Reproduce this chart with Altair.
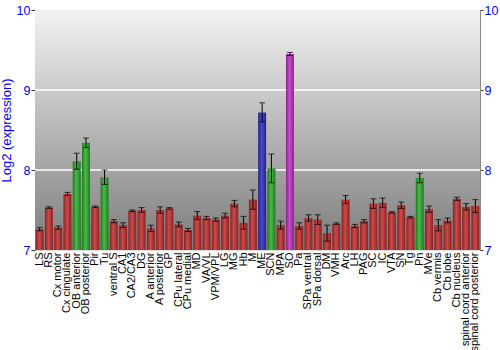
import altair as alt
import pandas as pd

regions = ["LS", "RS", "Cx motor", "Cx cingulate", "OB anterior", "OB posterior", "Pir", "Tu",
           "ventral S", "CA1", "CA2/CA3", "DG", "A anterior", "A posterior", "GP", "CPu lateral",
           "CPu medial", "MD", "VA/VL", "VPM/VPL", "LG", "MG", "Hb", "M", "ME", "SCN", "MPA", "SO",
           "Pa", "SPa ventral", "SPa dorsal", "DM", "VMH", "Arc", "LH", "PAG", "SC", "IC", "VTA",
           "SN", "Tg", "Pn", "MVe", "Cb vermis", "Cb lobe", "Cb nucleus", "spinal cord anterior",
           "spinal cord posterior"]
values = [7.26, 7.53, 7.28, 7.70, 8.11, 8.34, 7.54, 7.91,
          7.36, 7.31, 7.49, 7.50, 7.27, 7.50, 7.52, 7.32,
          7.25, 7.43, 7.40, 7.38, 7.43, 7.58, 7.34, 7.63, 8.72, 8.02, 7.31, 9.45,
          7.30, 7.40, 7.38, 7.21, 7.33, 7.63, 7.30, 7.36, 7.58, 7.59, 7.47,
          7.56, 7.41, 7.90, 7.51, 7.31, 7.37, 7.64, 7.54, 7.55]
errors = [0.02, 0.01, 0.02, 0.02, 0.10, 0.06, 0.01, 0.09,
          0.02, 0.03, 0.01, 0.03, 0.04, 0.04, 0.01, 0.03,
          0.02, 0.05, 0.02, 0.02, 0.03, 0.04, 0.08, 0.12, 0.12, 0.18, 0.05, 0.02,
          0.04, 0.04, 0.06, 0.10, 0.01, 0.05, 0.02, 0.02, 0.06, 0.06, 0.01,
          0.04, 0.01, 0.06, 0.04, 0.07, 0.03, 0.02, 0.04, 0.08]
green = ["OB anterior", "OB posterior", "Tu", "SCN", "Pn"]
blue = ["ME"]
purple = ["SO"]

groups = ["g" if r in green else "b" if r in blue else "p" if r in purple else "r" for r in regions]
df = pd.DataFrame({"region": regions, "value": values, "err": errors, "group": groups})
df["lo"] = df["value"] - df["err"]
df["hi"] = df["value"] + df["err"]

W, H = 445, 240
yscale = alt.Scale(domain=[7, 10], nice=False, zero=False)
xscale = alt.Scale(domain=regions, paddingInner=0.14, paddingOuter=0.07)
xaxis = alt.Axis(labelAngle=-90, labelFontSize=11, labelColor="black", ticks=False, domain=False,
                 title=None, labelPadding=2, labelLimit=300,
                 labelFont="Liberation Sans",
                 labelBaseline="middle", labelAlign="right")
X = alt.X("region:N", scale=xscale, axis=xaxis)

def grad(edge, mid):
    return alt.LinearGradient(gradient="linear", x1=0, x2=1, y1=0, y2=0,
                              stops=[alt.GradientStop(color=edge, offset=0),
                                     alt.GradientStop(color=mid, offset=0.45),
                                     alt.GradientStop(color=edge, offset=1)])

bg_df = pd.DataFrame({"top": [10], "bot": [7]})
bg = alt.Chart(bg_df).mark_rect(
    color=alt.LinearGradient(gradient="linear", x1=0, x2=0, y1=0, y2=1,
                             stops=[alt.GradientStop(color="#f2f2f2", offset=0),
                                    alt.GradientStop(color="#7c7c7c", offset=1)])
).encode(
    x=alt.value(0), x2=alt.value(W),
    y=alt.Y("top:Q", scale=yscale,
            axis=alt.Axis(values=[7, 8, 9, 10], title="Log2 (expression)", titleColor="#0000ff",
                          titleFontWeight="normal", titleFontSize=13, titleFont="Liberation Sans",
                          labelColor="#0000ff", labelFontSize=12.5, labelFont="Liberation Sans",
                          domainColor="#888888", tickColor="#333333", tickSize=4, grid=False,
                          labelPadding=1, titlePadding=3)),
    y2="bot:Q",
)

grid_df = pd.DataFrame({"v": [8, 9]})
grid = alt.Chart(grid_df).mark_rule(color="white", strokeWidth=1.5).encode(
    x=alt.value(0), x2=alt.value(W),
    y=alt.Y("v:Q", scale=yscale,
            axis=alt.Axis(orient="right", values=[7, 8, 9, 10], title=None,
                          labelColor="#0000ff", labelFontSize=12.5, labelFont="Liberation Sans",
                          domainColor="#888888", tickColor="#333333", tickSize=3, grid=False,
                          labelPadding=1)),
)

colors = {"r": ("#8a2222", "#cc4a4a"), "g": ("#1f7a1f", "#48bb48"),
          "b": ("#232388", "#4a4acc"), "p": ("#8a228a", "#cc4acc")}
bars = []
for g, (edge, mid) in colors.items():
    bars.append(alt.Chart(df).transform_filter(alt.datum.group == g).mark_bar(
        color=grad(edge, mid)).encode(
        x=X, y=alt.Y("value:Q", scale=yscale, axis=None), y2=alt.Y2(datum=7)))

rule = alt.Chart(df).mark_rule(color="black", strokeWidth=1).encode(
    x=X, y=alt.Y("lo:Q", scale=yscale, axis=None), y2="hi:Q")
cap_hi = alt.Chart(df).mark_tick(orient="horizontal", size=6, thickness=1, color="black").encode(
    x=X, y=alt.Y("hi:Q", scale=yscale, axis=None))
cap_lo = alt.Chart(df).mark_tick(orient="horizontal", size=6, thickness=1, color="black").encode(
    x=X, y=alt.Y("lo:Q", scale=yscale, axis=None))

chart = alt.layer(bg, grid, *bars, rule, cap_hi, cap_lo).resolve_scale(y="independent").properties(
    width=W, height=H, autosize="none",
    padding={"left": 35, "top": 10, "right": 20, "bottom": 100},
).configure_view(stroke=None).configure(background="white")

chart.save("out.html", embed_options={"renderer": "svg", "actions": False})
